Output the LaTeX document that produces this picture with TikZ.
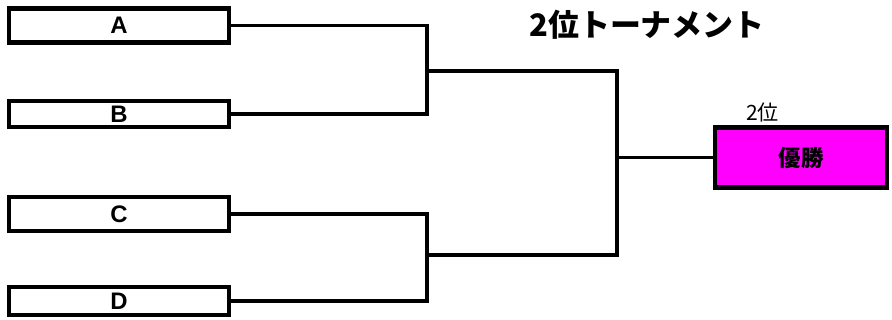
\documentclass[tikz,border=0pt]{standalone}
\usepackage{fontspec}
\setmainfont{Liberation Sans}
\newfontfamily\jp{Noto Sans CJK JP}
\usetikzlibrary{positioning}
\definecolor{pink}{RGB}{255,0,255}

\begin{document}
\begin{tikzpicture}[font=\bfseries\fontsize{17}{19}\selectfont,
	   t/.style={draw, line width=3pt, minimum width=5.5cm, minimum height=0.85cm, inner sep=0pt},
	   w/.style={draw, line width=3pt, fill=pink, minimum width=4.3cm, minimum height=1.5cm, font=\jp\bfseries\fontsize{16}{18}\selectfont},
	   l/.style={line width=2.6pt}]
	  \useasboundingbox (0,0) rectangle (22.3,8);
	  \node[t] (A) at (2.975,7.36) {A};
	  \node[t, minimum height=0.65cm, below=1.35cm of A] (B) {B};
	  \node[t, below=1.65cm of B] (C) {C};
	  \node[t, minimum height=0.7cm, below=1.3cm of C] (D) {D};
	  \node[w] (W) at (20.03,4.06) {優勝};
	  \node[anchor=south west, font=\jp\fontsize{15}{17}\selectfont] (lbl) at ([xshift=0.7cm, yshift=-0.05cm]W.north west) {2位};
	  \node[font=\jp\bfseries\fontsize{22}{24}\selectfont] (title) at (16.175,7.38) {2位トーナメント};
	  \coordinate (ab) at (10.675,6.225);
	  \coordinate (cd) at (10.675,1.625);
	  \coordinate (fin) at (15.425,0 |- W.west);
	  \draw[l] (A.east) -| (ab) |- (B.east);
	  \draw[l] (C.east) -| (cd) |- (D.east);
	  \draw[l] (ab) -| (fin) |- (cd);
	  \draw[l] (fin) -- (W.west);
	\end{tikzpicture}
\end{document}
